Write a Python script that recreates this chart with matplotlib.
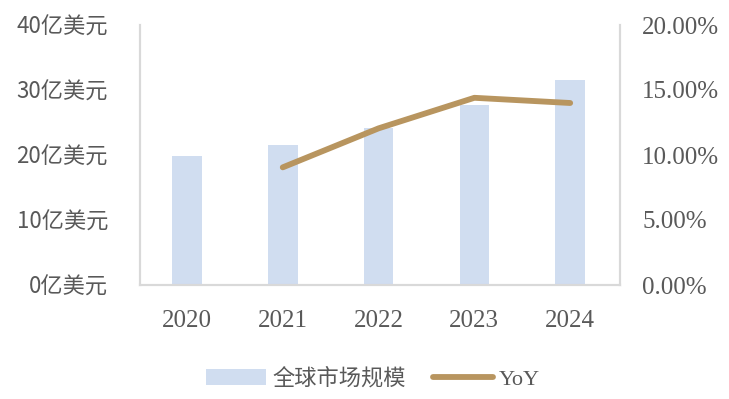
import matplotlib
matplotlib.use('Agg')
import matplotlib.pyplot as plt
from matplotlib.ticker import FuncFormatter

# data
years = ['2020', '2021', '2022', '2023', '2024']
market_size = [19.8, 21.6, 24.2, 27.7, 31.6]   # 亿美元
yoy_years = ['2021', '2022', '2023', '2024']
yoy = [9.05, 12.05, 14.4, 14.0]                  # %

plt.rcParams['font.family'] = ['Liberation Serif', 'Noto Sans CJK SC', 'DejaVu Sans']
txt = '#595959'
bar_c = '#D0DDF0'
line_c = '#B8955F'

fig = plt.figure(figsize=(7.29, 3.99), dpi=100)
ax = fig.add_axes([140/729, 1-285/399, 480/729, 260/399])
ax2 = ax.twinx()

x = list(range(len(years)))
b = ax.bar(x, market_size, width=0.31, color=bar_c, label='全球市场规模', zorder=2)
xi = [years.index(y) for y in yoy_years]
l, = ax2.plot(xi, yoy, color=line_c, lw=4.2, solid_capstyle='round', solid_joinstyle='round', label='YoY')

ax.set_xlim(-0.49, 4.52)
ax.set_ylim(0, 40)
ax2.set_ylim(0, 20)
ax.set_yticks([0, 10, 20, 30, 40])
ax.yaxis.set_major_formatter(FuncFormatter(lambda v, p: '%d亿美元' % v))
ax2.set_yticks([0, 5, 10, 15, 20])
ax2.yaxis.set_major_formatter(FuncFormatter(lambda v, p: '%.2f%%' % v))
ax.set_xticks(x)
ax.set_xticklabels(years)

for a in (ax, ax2):
    a.spines['top'].set_visible(False)
    for s in ('left', 'right', 'bottom'):
        a.spines[s].set_color('#D9D9D9')
        a.spines[s].set_linewidth(1.5)
    a.tick_params(length=0, colors=txt, labelsize=18)
ax.tick_params(axis='y', pad=23)
for t in ax.get_yticklabels():
    t.set_family('Noto Sans CJK SC')
    t.set_fontsize(16)
ax.tick_params(axis='x', pad=18)
ax2.tick_params(axis='y', pad=16)

fig.legend([b, l], ['全球市场规模', 'YoY'], loc='center', bbox_to_anchor=(373/729, 1-379/399),
           ncol=2, frameon=False, fontsize=16, labelcolor=txt, handlelength=2.7,
           handleheight=0.7, columnspacing=1.2, handletextpad=0.3)

fig.savefig('out.png', dpi=100)
